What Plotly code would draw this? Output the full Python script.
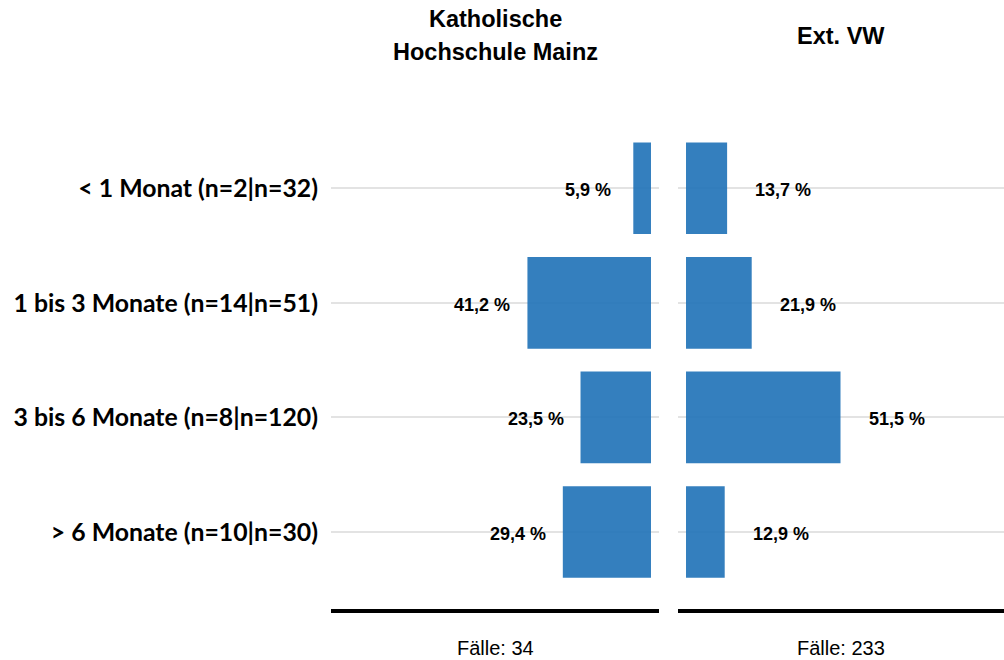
import plotly.graph_objects as go

categories = ["< 1 Monat (n=2|n=32)", "1 bis 3 Monate (n=14|n=51)",
              "3 bis 6 Monate (n=8|n=120)", "> 6 Monate (n=10|n=30)"]
kh_mainz = [5.9, 41.2, 23.5, 29.4]
ext_vw = [13.7, 21.9, 51.5, 12.9]
group_titles = ["Katholische", "Hochschule Mainz", "Ext. VW"]
cases = ["Fälle: 34", "Fälle: 233"]

BAR = "rgba(30,113,183,0.9)"
GRID = "#e3e3e3"

fig = go.Figure()
fig.add_trace(go.Bar(y=categories, x=kh_mainz, orientation="h", width=0.8,
                     marker=dict(color=BAR, line=dict(width=0)),
                     xaxis="x", yaxis="y", hoverinfo="skip"))
fig.add_trace(go.Bar(y=categories, x=ext_vw, orientation="h", width=0.8,
                     marker=dict(color=BAR, line=dict(width=0)),
                     xaxis="x2", yaxis="y2", hoverinfo="skip"))

ann = []
lblfont = dict(family="Liberation Sans, Arial", size=18, color="black")
for c, v in zip(categories, kh_mainz):
    ann.append(dict(x=v, y=c, xref="x", yref="y", text=f"<b>{v:.1f} %</b>".replace(".", ","),
                    showarrow=False, xanchor="center", yanchor="middle",
                    xshift=-45, yshift=-2, font=lblfont))
for c, v in zip(categories, ext_vw):
    ann.append(dict(x=v, y=c, xref="x2", yref="y2", text=f"<b>{v:.1f} %</b>".replace(".", ","),
                    showarrow=False, xanchor="center", yanchor="middle",
                    xshift=56, yshift=-2, font=lblfont))

titlefont = dict(family="Liberation Sans, Arial", size=23.5, color="black")
ann.append(dict(x=0.5, y=1.0, xref="x domain", yref="paper", text="<b>" + group_titles[0] + "</b>",
                showarrow=False, xanchor="center", yanchor="middle", yshift=112, font=titlefont))
ann.append(dict(x=0.5, y=1.0, xref="x domain", yref="paper", text="<b>" + group_titles[1] + "</b>",
                showarrow=False, xanchor="center", yanchor="middle", yshift=79, font=titlefont))
ann.append(dict(x=0.5, y=1.0, xref="x2 domain", yref="paper", text="<b>" + group_titles[2] + "</b>",
                showarrow=False, xanchor="center", yanchor="middle", yshift=95, font=titlefont))

casefont = dict(family="Liberation Sans, Arial", size=20, color="black")
ann.append(dict(x=0.5, y=0, xref="x domain", yref="paper", text=cases[0],
                showarrow=False, xanchor="center", yanchor="middle", yshift=-39, font=casefont))
ann.append(dict(x=0.5, y=0, xref="x2 domain", yref="paper", text=cases[1],
                showarrow=False, xanchor="center", yanchor="middle", yshift=-39, font=casefont))

W_PLOT = 673
fig.update_layout(
    width=1004, height=660,
    margin=dict(l=331, r=0, t=131, b=51, pad=0),
    plot_bgcolor="white", paper_bgcolor="white",
    showlegend=False, bargap=0.2,
    annotations=ann,
    xaxis=dict(domain=[0, 328 / W_PLOT], range=[106.7, -2.67], showgrid=False, zeroline=False,
               showticklabels=False, showline=True, linecolor="black", linewidth=4, ticks=""),
    xaxis2=dict(domain=[347 / W_PLOT, 1], range=[-2.67, 106.0], showgrid=False, zeroline=False,
                showticklabels=False, showline=True, linecolor="black", linewidth=4, ticks="",
                anchor="y2"),
    yaxis=dict(type="category", categoryorder="array", categoryarray=categories,
               range=[3.672, -0.5], showgrid=True, gridcolor=GRID, gridwidth=2,
               zeroline=False, ticks="", ticklabelstandoff=12,
               tickfont=dict(family="Lato", size=24.8, color="black", weight="bold"),
               anchor="x"),
    yaxis2=dict(type="category", categoryorder="array", categoryarray=categories,
                range=[3.672, -0.5], showgrid=True, gridcolor=GRID, gridwidth=2,
                zeroline=False, ticks="", showticklabels=False, anchor="x2"),
)

fig.write_html("out.html", config={"displayModeBar": False},
               post_script="document.body.style.margin='0';document.body.style.overflow='hidden';")
